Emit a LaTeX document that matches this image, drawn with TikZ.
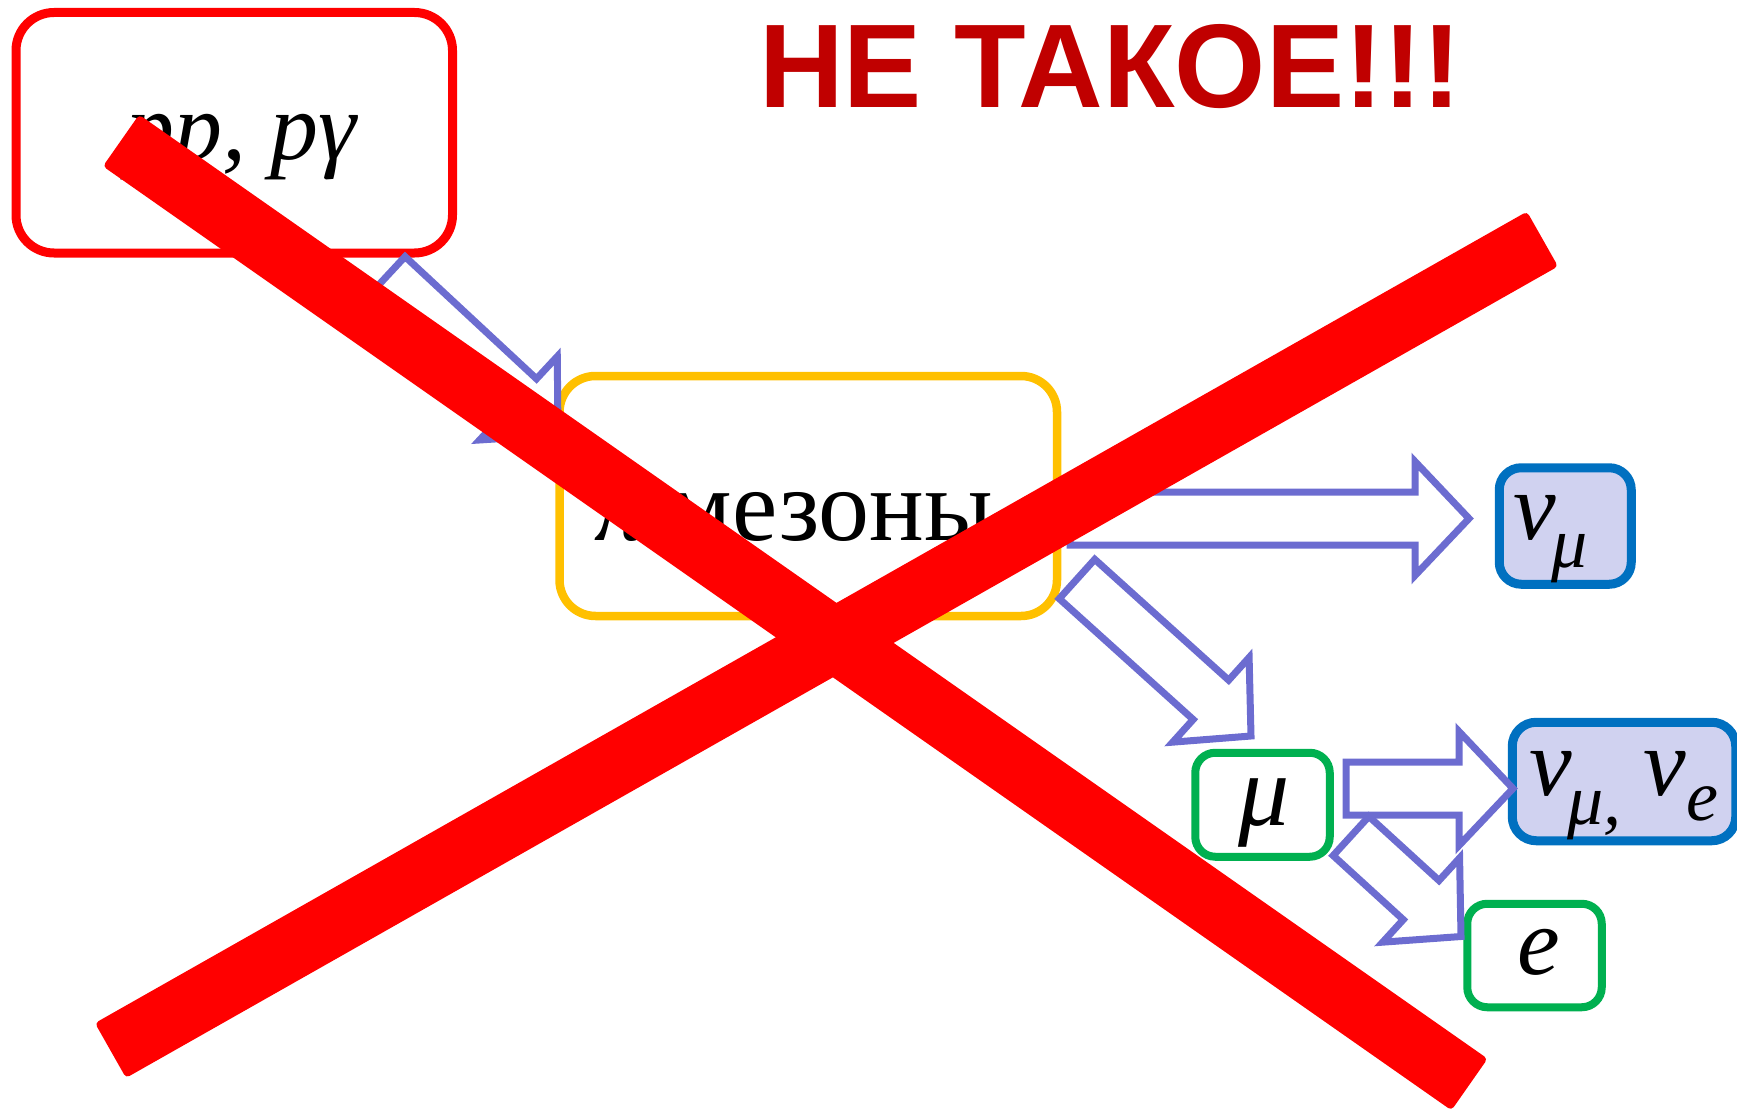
\documentclass[tikz,border=0pt]{standalone}
\usepackage{fontspec}
\setmainfont{Liberation Serif}
\newfontfamily\headfont{Liberation Sans}
\usetikzlibrary{calc}

\definecolor{xred}{RGB}{255,0,0}
\definecolor{titlered}{RGB}{192,0,0}
\definecolor{boxyellow}{RGB}{255,192,0}
\definecolor{boxblue}{RGB}{0,112,192}
\definecolor{boxgreen}{RGB}{0,176,80}
\definecolor{nufill}{RGB}{208,210,240}
\definecolor{arrowblue}{RGB}{108,108,208}

% block arrow geometry: shaft half width, head half width, head length
\newcommand\arrSW{26.5pt}
\newcommand\arrHW{57pt}
\newcommand\arrHL{54pt}
% hollow block arrow from coordinate #1 (tail) to coordinate #2 (tip)
\newcommand\blockarrow[2]{%
  \coordinate (#1-#2-base) at ($(#2)!\arrHL!(#1)$);
  \draw[blockarrow] ($(#1)!\arrSW!90:(#2)$)
    -- ($(#1-#2-base)!\arrSW!-90:(#1)$)
    -- ($(#1-#2-base)!\arrHW!-90:(#1)$)
    -- (#2)
    -- ($(#1-#2-base)!\arrHW!90:(#1)$)
    -- ($(#1-#2-base)!\arrSW!90:(#1)$)
    -- ($(#1)!\arrSW!-90:(#2)$) -- cycle;}
% one thick bar of the crossing-out mark
\newcommand\crossbar[2]{%
  \fill[xred, rounded corners=4pt] ($(#1)!31.5pt!90:(#2)$)
    -- ($(#2)!31.5pt!-90:(#1)$)
    -- ($(#2)!31.5pt!90:(#1)$)
    -- ($(#1)!31.5pt!-90:(#2)$) -- cycle;}

\begin{document}
\begin{tikzpicture}[x=1pt,y=-1pt,
  box/.style={draw, inner sep=0pt, fill=white},
  lbl/.style={inner sep=0pt, font=\fontsize{96}{110}\selectfont},
  blockarrow/.style={draw=arrowblue, line width=7pt, fill=white, line join=miter}]
\useasboundingbox (0,0) rectangle (1737,1110);

% boxes
\node[box, draw=xred, line width=9pt, rounded corners=38pt,
      minimum width=436.5pt, minimum height=240.5pt] (src) at (234.25,132.75) {};
\node[box, draw=boxyellow, line width=8.5pt, rounded corners=36pt,
      minimum width=497.5pt, minimum height=240pt] (mes) at (808.25,496) {};
\node[box, draw=boxblue, fill=nufill, line width=9pt, rounded corners=22pt,
      minimum width=132pt, minimum height=116.5pt] (numu) at (1565.25,526) {};
\node[box, draw=boxblue, fill=nufill, line width=9pt, rounded corners=24pt,
      minimum width=223.5pt, minimum height=118.5pt] (nunu) at (1624,781.5) {};
\node[box, draw=boxgreen, line width=8pt, rounded corners=20pt,
      minimum width=134.5pt, minimum height=104pt] (mu) at (1262.5,804.75) {};
\node[box, draw=boxgreen, line width=8pt, rounded corners=20pt,
      minimum width=134.5pt, minimum height=103.5pt] (el) at (1534.5,955.5) {};

% arrows
\coordinate (a1t) at (387,276);     \coordinate (a1p) at (558,435);
\coordinate (a2t) at (1070,518.5);  \coordinate (a2p) at (1469,518.5);
\coordinate (a3t) at (1077,579);    \coordinate (a3p) at (1251,736);
\coordinate (a4t) at (1346,788.5);  \coordinate (a4p) at (1513,788.5);
\coordinate (a5t) at (1351,836);    \coordinate (a5p) at (1461,936.5);
\blockarrow{a1t}{a1p}
\blockarrow{a2t}{a2p}
\blockarrow{a3t}{a3p}
\blockarrow{a4t}{a4p}
\blockarrow{a5t}{a5p}

% labels
\node[lbl, anchor=base east] (srctext) at (357,160) {\itshape pp, pγ};
\node[lbl, anchor=base east, font=\fontsize{102}{110}\selectfont] (mestext) at (993,540)
  {{\itshape π}\kern-12pt-мезоны};
\node[lbl, anchor=base west] (numutext) at (1513,539)
  {\itshape ν\kern-4pt\raisebox{-28pt}{\fontsize{72}{80}\selectfont μ}};
\node[lbl, anchor=base west] (nunutext) at (1529,795)
  {\itshape ν\kern-4pt\raisebox{-29pt}{\fontsize{72}{80}\selectfont μ,}\kern22pt
   ν\raisebox{-25pt}{\fontsize{72}{80}\selectfont e}};
\node[lbl, anchor=base west, font=\fontsize{102}{110}\selectfont] (mutext) at (1238,825) {\itshape μ};
\node[lbl, anchor=base west] (eltext) at (1517,974) {\itshape e};

% heading
\node[anchor=base west, inner sep=0pt, text=titlered, xscale=0.985,
      font=\headfont\bfseries\fontsize{119}{130}\selectfont] (title) at (759,107.5)
  {НЕ ТАКОЕ!!!};

% crossing-out mark on top of everything
\coordinate (xa1) at (121,140.5);   \coordinate (xa2) at (1469.5,1084.5);
\coordinate (xb1) at (110.5,1050.5); \coordinate (xb2) at (1542.5,239);
\crossbar{xa1}{xa2}
\crossbar{xb1}{xb2}
\end{tikzpicture}
\end{document}
